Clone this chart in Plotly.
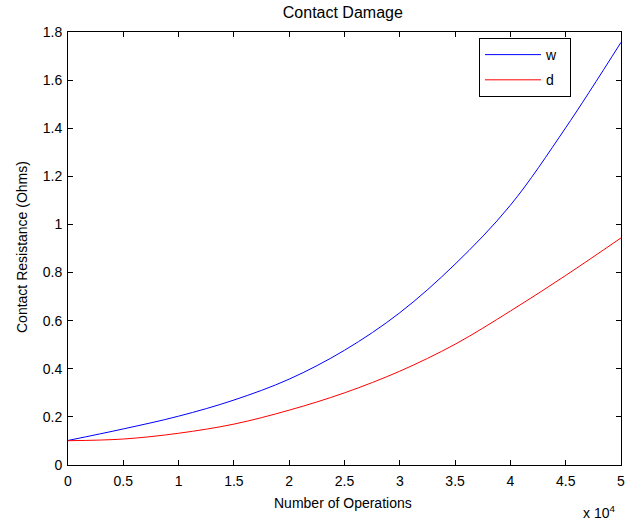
import plotly.graph_objects as go

operations = [0, 5000, 10000, 15000, 20000, 25000, 30000, 35000, 40000, 45000, 50000]
w_values = [0.102, 0.150, 0.203, 0.270, 0.357, 0.477, 0.633, 0.835, 1.080, 1.402, 1.757]
d_values = [0.101, 0.108, 0.132, 0.170, 0.228, 0.300, 0.390, 0.502, 0.640, 0.788, 0.944]
x_tick_vals = [0, 5000, 10000, 15000, 20000, 25000, 30000, 35000, 40000, 45000, 50000]
x_tick_text = ["0", "0.5", "1", "1.5", "2", "2.5", "3", "3.5", "4", "4.5", "5"]
y_tick_vals = [0, 0.2, 0.4, 0.6, 0.8, 1.0, 1.2, 1.4, 1.6, 1.8]
y_tick_text = ["0", "0.2", "0.4", "0.6", "0.8", "1", "1.2", "1.4", "1.6", "1.8"]

FONT = "Liberation Sans, Arial, sans-serif"
NB = "\u00a0"

fig = go.Figure()
fig.add_trace(go.Scatter(x=operations, y=w_values, mode="lines", name="w" + NB * 2,
                         legendgroup="w",
                         line=dict(color="#0000ff", width=1, shape="spline")))
fig.add_trace(go.Scatter(x=operations, y=d_values, mode="lines", name="d" + NB * 2,
                         legendgroup="d",
                         line=dict(color="#ff0000", width=1, shape="spline")))

axis_common = dict(showline=True, linecolor="black", linewidth=1, mirror="ticks",
                   ticks="inside", ticklen=5, tickcolor="black", showgrid=False,
                   zeroline=False, tickfont=dict(family=FONT, size=14, color="black"))

fig.update_xaxes(range=[0, 50000], tickvals=x_tick_vals, ticktext=x_tick_text,
                 ticklabelstandoff=3, **axis_common)
fig.update_yaxes(range=[0, 1.8], tickvals=y_tick_vals, ticktext=y_tick_text,
                 ticklabelstandoff=2, **axis_common)

fig.update_layout(
    width=642, height=521,
    margin=dict(l=68, r=21, t=32, b=56),
    paper_bgcolor="white", plot_bgcolor="white",
    font=dict(family=FONT, size=14, color="black"),
    title=dict(text="Contact Damage", x=0.534, xanchor="center", y=1 - 12 / 521,
               yanchor="middle", font=dict(family=FONT, size=16, color="black")),
    legend=dict(x=0.7432, y=0.9861, xanchor="left", yanchor="top",
                bordercolor="black", borderwidth=1, bgcolor="white",
                itemwidth=56, tracegroupgap=4,
                font=dict(family=FONT, size=14, color="black")),
    showlegend=True,
)
fig.add_annotation(text="Number of Operations", xref="paper", yref="paper",
                   x=0.497, y=(465 - 503) / 433, xanchor="center", yanchor="middle",
                   showarrow=False, font=dict(family=FONT, size=14, color="black"))
fig.add_annotation(text="Contact Resistance (Ohms)", xref="paper", yref="paper",
                   x=(22 - 68) / 553, y=(465 - 247) / 433, xanchor="center",
                   yanchor="middle", textangle=-90, showarrow=False,
                   font=dict(family=FONT, size=14, color="black"))
fig.add_annotation(text="x 10<sup>4</sup>", xref="paper", yref="paper",
                   x=(617 - 68) / 553, y=(465 - 512) / 433, xanchor="right",
                   yanchor="middle", showarrow=False,
                   font=dict(family=FONT, size=14, color="black"))

fig.write_html("out.html", config={"displayModeBar": False},
               post_script="document.body.style.margin='0';")
